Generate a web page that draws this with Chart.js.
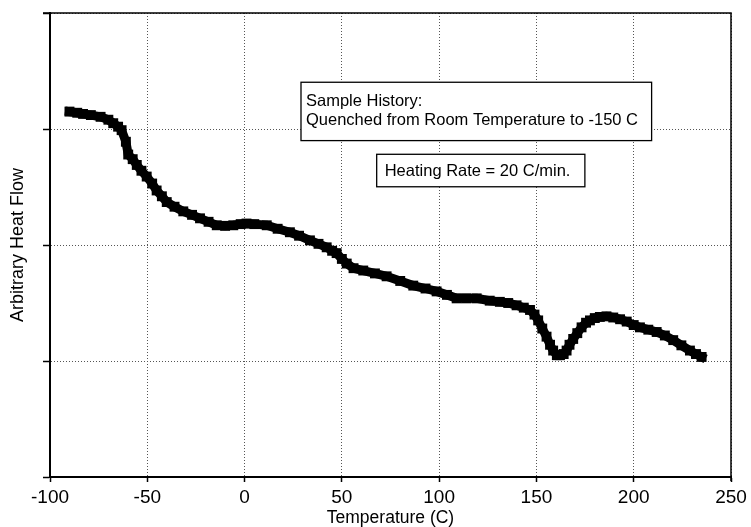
<!DOCTYPE html>
<html>
<head>
<meta charset="utf-8">
<script src="https://cdn.jsdelivr.net/npm/chart.js@4/dist/chart.umd.min.js"></script>
<style>
  html, body { margin: 0; padding: 0; background: #fff; }
  #wrap { width: 751px; height: 527px; }
</style>
</head>
<body>
<div id="wrap"><canvas id="dsc" width="751" height="527"></canvas></div>
<script>
// temperature (C) of each DSC reading
const temps = [
  -90, -86, -83, -79, -74, -70, -67.5, -65, -63.2, -61,
  -59.8, -57.5, -55.4, -53, -50.3, -47.5, -45.2, -42.5, -40, -36,
  -31.5, -27, -22.9, -18.5, -14.3, -10, -5.8, -2, 1, 5,
  11.4, 17, 23.3, 28, 33.6, 38, 42.2, 45, 47.3, 50,
  52.5, 56, 61, 67, 73, 80, 86.7, 93, 98.7, 104,
  109, 114, 119.3, 126, 131.2, 135.5, 139.8, 143.5, 146.7, 149,
  150.9, 153, 155.2, 157, 158.6, 160.5, 162.1, 164, 165.5, 167,
  168.9, 171, 173.2, 175.5, 177.5, 180, 182.6, 186, 189.5, 193,
  196.4, 200, 203.2, 207.5, 211.8, 216, 220.3, 224.5, 228.9, 232, 234.9
];
// arbitrary heat flow
const heatFlow = [
  3.15, 3.14, 3.13, 3.12, 3.105, 3.08, 3.05, 3.02, 2.99, 2.89,
  2.78, 2.74, 2.69, 2.64, 2.59, 2.53, 2.47, 2.42, 2.37, 2.33,
  2.29, 2.26, 2.23, 2.2, 2.17, 2.165, 2.17, 2.18, 2.185, 2.18,
  2.17, 2.14, 2.11, 2.08, 2.04, 2.01, 1.98, 1.95, 1.93, 1.88,
  1.84, 1.8, 1.78, 1.755, 1.73, 1.69, 1.65, 1.625, 1.6, 1.57,
  1.54, 1.54, 1.54, 1.52, 1.51, 1.5, 1.48, 1.46, 1.44, 1.4,
  1.35, 1.28, 1.21, 1.14, 1.09, 1.05, 1.05, 1.06, 1.09, 1.14,
  1.19, 1.24, 1.29, 1.33, 1.35, 1.37, 1.38, 1.385, 1.375, 1.36,
  1.34, 1.31, 1.29, 1.27, 1.25, 1.22, 1.18, 1.135, 1.09, 1.06, 1.035
];
const xTicks = [-100, -50, 0, 50, 100, 150, 200, 250];
const yTicks = [0, 1, 2, 3, 4];

const noteLines = ["Sample History:", "Quenched from Room Temperature to -150 C"];
const rateNote = "Heating Rate = 20 C/min.";

const FONT = "'Liberation Sans', Arial, Helvetica, sans-serif";

// top/right frame lines
const framePlugin = {
  id: "frame",
  afterDatasetsDraw(chart) {
    const { ctx, chartArea: a } = chart;
    ctx.save();
    ctx.strokeStyle = "#000";
    ctx.lineWidth = 1.5;
    ctx.beginPath();
    ctx.moveTo(a.left - 7, a.top);
    ctx.lineTo(a.right, a.top);
    ctx.lineTo(a.right, a.bottom + 4);
    ctx.stroke();
    ctx.restore();
  }
};

// the two text boxes, placed in data units
const notesPlugin = {
  id: "notes",
  afterDatasetsDraw(chart) {
    const { ctx, scales: { x, y } } = chart;
    const box = (x0, x1, y0, y1) => {
      const l = x.getPixelForValue(x0), r = x.getPixelForValue(x1);
      const t = y.getPixelForValue(y0), b = y.getPixelForValue(y1);
      ctx.fillStyle = "#fff";
      ctx.fillRect(l, t, r - l, b - t);
      ctx.strokeStyle = "#000";
      ctx.lineWidth = 1.3;
      ctx.strokeRect(l, t, r - l, b - t);
      return { l, t, r, b };
    };
    ctx.save();
    ctx.font = "16.5px " + FONT;
    ctx.textAlign = "left";
    ctx.textBaseline = "alphabetic";

    const b1 = box(29, 209.2, 3.403, 2.9);
    ctx.fillStyle = "#000";
    noteLines.forEach((s, i) => ctx.fillText(s, b1.l + 5, b1.t + 24 + i * 18.5));

    const b2 = box(67.9, 174.9, 2.782, 2.502);
    ctx.fillStyle = "#000";
    ctx.textBaseline = "middle";
    ctx.fillText(rateNote, b2.l + 8, (b2.t + b2.b) / 2 + 1);
    ctx.restore();
  }
};

const gridOpts = (tickLen) => ({
  color: "#555",
  lineWidth: 1,
  drawTicks: true,
  tickLength: tickLen,
  tickColor: "#000",
  tickWidth: 1.5,
  tickBorderDash: []
});

new Chart(document.getElementById("dsc"), {
  type: "line",
  data: {
    datasets: [{
      data: temps.map((t, i) => ({ x: t, y: heatFlow[i] })),
      showLine: true,
      borderColor: "#000",
      borderWidth: 9,
      borderCapStyle: "square",
      borderJoinStyle: "miter",
      tension: 0,
      pointStyle: "rect",
      pointRadius: 7,
      pointBorderWidth: 0,
      pointBackgroundColor: "#000"
    }]
  },
  options: {
    responsive: false,
    animation: false,
    layout: { padding: { top: 13, right: 20, left: 0, bottom: 0 } },
    plugins: { legend: { display: false }, tooltip: { enabled: false } },
    scales: {
      x: {
        type: "linear",
        min: xTicks[0],
        max: xTicks[xTicks.length - 1],
        afterBuildTicks: (s) => { s.ticks = xTicks.map(v => ({ value: v })); },
        afterFit: (s) => { s.height = 50; },
        // in v4 border.dash dashes the grid lines, the axis line stays solid
        border: { display: true, color: "#000", width: 2, dash: [1, 2] },
        grid: gridOpts(5),
        ticks: {
          color: "#000",
          padding: 4,
          maxRotation: 0,
          font: { family: FONT, size: 19 }
        },
        title: {
          display: true,
          text: "Temperature (C)",
          color: "#000",
          font: { family: FONT, size: 17.5, lineHeight: 1 },
          padding: { top: 0, bottom: 0 }
        }
      },
      y: {
        type: "linear",
        min: yTicks[0],
        max: yTicks[yTicks.length - 1],
        afterBuildTicks: (s) => { s.ticks = yTicks.map(v => ({ value: v })); },
        afterFit: (s) => { s.width = 50; },
        border: { display: true, color: "#000", width: 2, dash: [1, 2] },
        grid: gridOpts(7),
        ticks: { display: false },
        title: {
          display: true,
          text: "Arbitrary Heat Flow",
          color: "#000",
          font: { family: FONT, size: 18, lineHeight: 1 },
          padding: { top: 9, bottom: 0 }
        }
      }
    }
  },
  plugins: [framePlugin, notesPlugin]
});
</script>
</body>
</html>
